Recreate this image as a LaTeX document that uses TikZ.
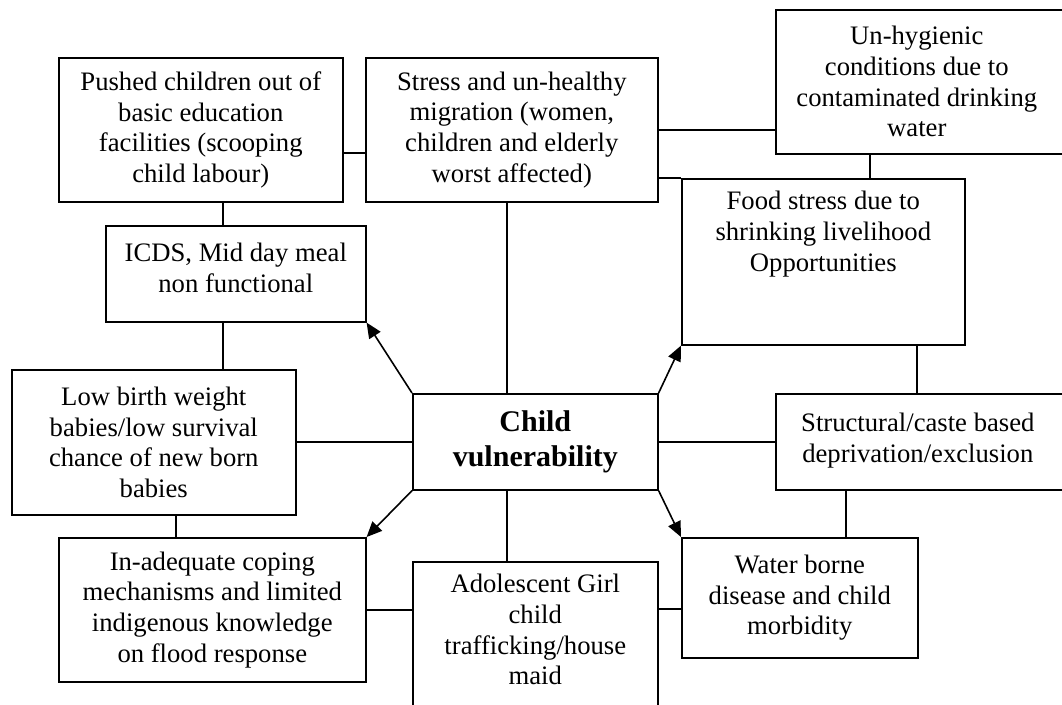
\documentclass[tikz,border=0pt]{standalone}
\usepackage{fontspec}
\setmainfont{Liberation Serif}
\usetikzlibrary{arrows.meta}

\begin{document}
\begin{tikzpicture}[x=0.75pt,y=-0.75pt,
	box/.style={draw,line width=1.2pt,align=center,inner sep=0pt,anchor=north west,font=\fontsize{20}{23}\selectfont},
	link/.style={line width=1.2pt},
	arr/.style={line width=1.2pt,-{Triangle[length=11.5pt,width=10pt]}}]
	\useasboundingbox (0,0) rectangle (1062,704);
	\clip (0,0) rectangle (1062,704);
	\node[box,minimum width=213pt,minimum height=108pt] (push) at (58,57) {Pushed children out of\\basic education\\facilities (scooping\\child labour)};
	\node[box,minimum width=219pt,minimum height=108pt] (stress) at (365,57) {Stress and un-healthy\\migration (women,\\children and elderly\\worst affected)};
	\node[box,minimum width=231pt,minimum height=108pt,align=left] (unhyg) at (775,9) {\parbox{211.5pt}{\centering Un-hygienic\\conditions due to\\contaminated drinking\\water}\hspace{19.5pt}};
	\node[box,minimum width=195pt,minimum height=72pt] (icds) at (105,225) {ICDS, Mid day meal\\non functional\\[-14pt] ~};
	\node[box,minimum width=212.25pt,minimum height=124.5pt] (food) at (681,178) {Food stress due to\\shrinking livelihood\\Opportunities\\ ~\\ ~};
	\node[box,minimum width=213pt,minimum height=108.75pt] (low) at (11,369) {Low birth weight\\babies/low survival\\chance of new born\\babies};
	\node[box,minimum width=183.75pt,minimum height=72pt,font=\fontsize{22.5}{26}\selectfont\bfseries] (child) at (412,393) {Child\\vulnerability};
	\node[box,minimum width=231pt,minimum height=72pt,align=left] (struct) at (775,393) {\parbox{213pt}{\centering Structural/caste based\\deprivation/exclusion\\[-17pt] ~}\hspace{18pt}};
	\node[box,minimum width=230.25pt,minimum height=108pt] (inad) at (58,537) {In-adequate coping\\mechanisms and limited\\indigenous knowledge\\on flood response};
	\node[box,minimum width=183.75pt,minimum height=130.5pt] (adol) at (412,561) {Adolescent Girl\\child\\trafficking/house\\maid\\[6pt] ~};
	\node[box,minimum width=177pt,minimum height=90pt] (water) at (681,537) {Water borne\\disease and child\\morbidity};
	\draw[link] (push.east |- 0,153) -- (stress.west |- 0,153);
	\draw[link] (push.south -| 223,0) -- (icds.north -| 223,0);
	\draw[link] (icds.south -| 223,0) -- (low.north -| 223,0);
	\draw[link] (stress.south -| 507,0) -- (child.north -| 507,0);
	\draw[link] (stress.east) -- (stress.east -| unhyg.west);
	\draw[link] (stress.east |- food.north west) -- (food.north west);
	\draw[link] (unhyg.south -| 870,0) -- (food.north -| 870,0);
	\draw[link] (food.south -| 917,0) -- (struct.north -| 917,0);
	\draw[link] (child.east) -- (struct.west);
	\draw[link] (child.west) -- (low.east |- child.west);
	\draw[link] (low.south -| 176,0) -- (inad.north -| 176,0);
	\draw[link] (child.south -| 507,0) -- (adol.north -| 507,0);
	\draw[link] (inad.east) -- (inad.east -| adol.west);
	\draw[link] (adol.east |- 0,609) -- (water.west |- 0,609);
	\draw[link] (struct.south -| 846,0) -- (water.north -| 846,0);
	\draw[arr] (child.north west) -- (icds.south east);
	\draw[arr] (child.north east) -- (food.south west);
	\draw[arr] (child.south west) -- (inad.north east);
	\draw[arr] (child.south east) -- (water.north west);
\end{tikzpicture}
\end{document}
